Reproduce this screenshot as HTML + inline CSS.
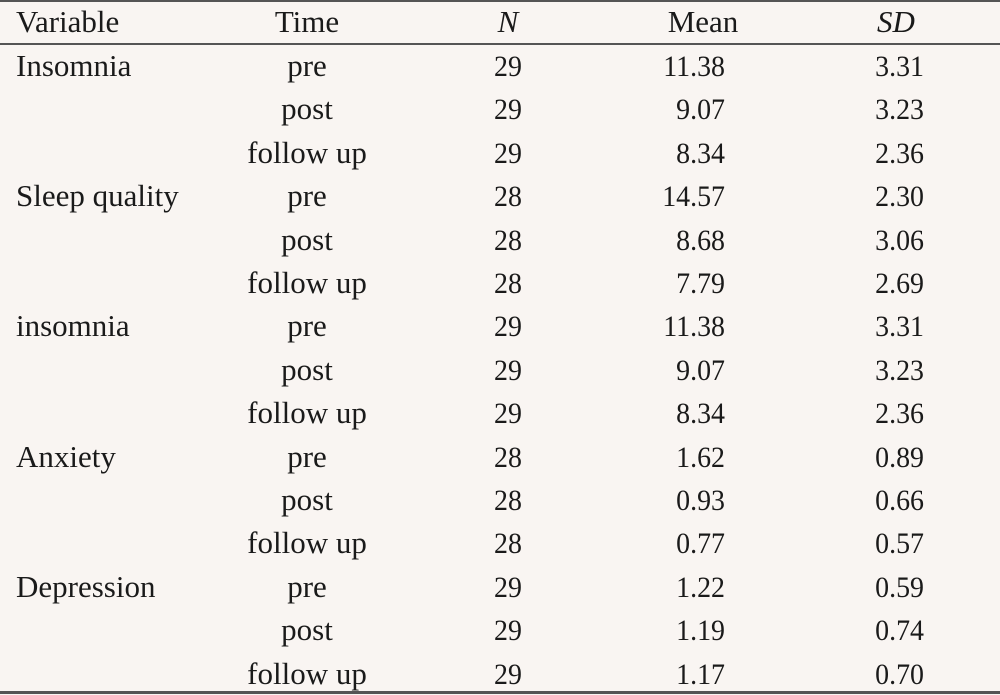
<!DOCTYPE html>
<html><head><style>
html,body{margin:0;padding:0;}
body{width:1000px;height:695px;background:#f9f5f2;position:relative;overflow:hidden;font-family:"Liberation Serif",serif;font-size:30px;color:#1a1a1a;}
.l{position:absolute;left:0;width:1000px;background:#555;}
.t{position:absolute;white-space:nowrap;line-height:30px;}
.w{font-size:31px;}
.c{transform:translateX(-50%);}
.r{transform:translateX(-100%) scaleX(0.93);transform-origin:100% 50%;}
.cn{transform:translateX(-50%) scaleX(0.93);}
i{font-style:italic;}
</style></head><body>
<div class="l" style="top:0;height:2px"></div>
<div class="l" style="top:43px;height:2px"></div>
<div class="l" style="top:691px;height:3px"></div>
<div id="tb"></div>
<script>
var rows=[["Insomnia","pre","29","11.38","3.31"],["","post","29","9.07","3.23"],["","follow up","29","8.34","2.36"],
["Sleep quality","pre","28","14.57","2.30"],["","post","28","8.68","3.06"],["","follow up","28","7.79","2.69"],
["insomnia","pre","29","11.38","3.31"],["","post","29","9.07","3.23"],["","follow up","29","8.34","2.36"],
["Anxiety","pre","28","1.62","0.89"],["","post","28","0.93","0.66"],["","follow up","28","0.77","0.57"],
["Depression","pre","29","1.22","0.59"],["","post","29","1.19","0.74"],["","follow up","29","1.17","0.70"]];
var h='';
function cell(x,y,txt,cls){h+='<div class="t '+cls+'" style="left:'+x+'px;top:'+(y-15)+'px">'+txt+'</div>';}
cell(16,22,'Variable','w');cell(307,22,'Time','c w');cell(508,22,'<i>N</i>','c w');cell(703,22,'Mean','c w');cell(896,22,'<i>SD</i>','c w');
rows.forEach(function(r,i){var y=67+i*43.4;
cell(16,y-1,r[0],'w');cell(307,y-1,r[1],'c w');cell(508,y,r[2],'cn');cell(725,y,r[3],'r');cell(924,y,r[4],'r');});
document.getElementById('tb').innerHTML=h;
</script>
</body></html>
